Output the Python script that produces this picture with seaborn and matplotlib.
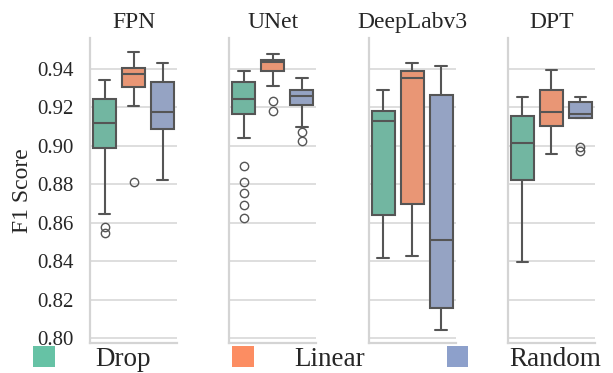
import matplotlib
matplotlib.use("Agg")
import matplotlib.pyplot as plt
from matplotlib.patches import Patch
import seaborn as sns
import pandas as pd

MODELS = ["FPN", "UNet", "DeepLabv3", "DPT"]
METHODS = ["Drop", "Linear", "Random"]

# F1 samples (quartiles, whiskers and outliers)
FPN_DROP = [0.8545, 0.8576, 0.8645, 0.899, 0.904, 0.909, 0.9117, 0.916, 0.921, 0.9242, 0.927, 0.931, 0.9343]
FPN_LINEAR = [0.8813, 0.9207, 0.925, 0.9308, 0.933, 0.935, 0.9374, 0.939, 0.940, 0.9405, 0.943, 0.946, 0.9487]
FPN_RANDOM = [0.8822, 0.895, 0.903, 0.9086, 0.912, 0.915, 0.9178, 0.922, 0.928, 0.9332, 0.936, 0.940, 0.9433]

UNET_DROP = [0.8626, 0.8691, 0.8756, 0.8810, 0.8897, 0.9039, 0.9167, 0.918, 0.920, 0.921, 0.922, 0.923,
             0.9245, 0.926, 0.928, 0.929, 0.930, 0.932, 0.9331, 0.934, 0.935, 0.936, 0.937, 0.938, 0.9388]
UNET_LINEAR = [0.9181, 0.9235, 0.9313, 0.9391, 0.941, 0.942, 0.9436, 0.944, 0.9445, 0.9449, 0.946, 0.947, 0.948]
UNET_RANDOM = [0.9025, 0.9074, 0.9098, 0.9211, 0.923, 0.924, 0.9259, 0.927, 0.928, 0.9292, 0.931, 0.933, 0.9351]

DEEPLAB_DROP = [0.8418, 0.850, 0.858, 0.8638, 0.880, 0.900, 0.9129, 0.915, 0.917, 0.9181, 0.922, 0.926, 0.9289]
DEEPLAB_LINEAR = [0.8427, 0.852, 0.862, 0.8697, 0.890, 0.920, 0.9351, 0.937, 0.938, 0.9391, 0.941, 0.942, 0.9433]
DEEPLAB_RANDOM = [0.8040, 0.808, 0.812, 0.8155, 0.825, 0.840, 0.8510, 0.880, 0.910, 0.9266, 0.932, 0.938, 0.9416]

DPT_DROP = [0.8396, 0.860, 0.875, 0.8822, 0.890, 0.896, 0.9016, 0.906, 0.911, 0.9157, 0.919, 0.922, 0.9253]
DPT_LINEAR = [0.8958, 0.902, 0.907, 0.9103, 0.913, 0.915, 0.9178, 0.922, 0.926, 0.9289, 0.932, 0.936, 0.9396]
DPT_RANDOM = [0.8975, 0.8995, 0.9143, 0.9143, 0.915, 0.916, 0.9164, 0.918, 0.920, 0.9227, 0.9235, 0.924, 0.9253]

Y_TICKS = [0.80, 0.82, 0.84, 0.86, 0.88, 0.90, 0.92, 0.94]

GROUPS = [
    [FPN_DROP, FPN_LINEAR, FPN_RANDOM],
    [UNET_DROP, UNET_LINEAR, UNET_RANDOM],
    [DEEPLAB_DROP, DEEPLAB_LINEAR, DEEPLAB_RANDOM],
    [DPT_DROP, DPT_LINEAR, DPT_RANDOM],
]

rows = []
for model, groups in zip(MODELS, GROUPS):
    for method, vals in zip(METHODS, groups):
        for v in vals:
            rows.append({"model": model, "method": method, "f1": v})
df = pd.DataFrame(rows)

sns.set_theme(style="whitegrid")
plt.rcParams["font.family"] = ["Liberation Serif", "DejaVu Serif"]

palette = sns.color_palette("Set2", 3)

fig, axes = plt.subplots(1, 4, figsize=(6.13, 3.73), dpi=100, sharey=True)
fig.subplots_adjust(left=90 / 613, right=595 / 613, top=1 - 38 / 373, bottom=1 - 343 / 373, wspace=0.6)

for i, (ax, model) in enumerate(zip(axes, MODELS)):
    sub = df[df["model"] == model]
    sns.boxplot(data=sub, y="f1", hue="method", hue_order=METHODS, palette=palette,
                width=1.0, gap=0.2, linewidth=1.5, linecolor="#555555", fliersize=6,
                legend=False, ax=ax)
    ax.set_title(model, fontsize=17, pad=7)
    ax.set_xlabel("")
    ax.set_ylabel("")
    ax.set_xlim(-0.5, 0.5)
    ax.set_xticks([])
    ax.grid(axis="x", visible=False)
    ax.grid(axis="y", color="#d4d4d4", linewidth=1.1)
    for s in ("left", "bottom"):
        ax.spines[s].set_color("#d4d4d4")
        ax.spines[s].set_linewidth(1.6)
    sns.despine(ax=ax)

axes[0].set_ylim(0.7974, 0.9561)
axes[0].set_yticks(Y_TICKS)
axes[0].set_yticklabels([f"{t:.2f}" for t in Y_TICKS])
axes[0].tick_params(axis="y", labelsize=15, pad=12, length=0)
for ax in axes[1:]:
    ax.tick_params(axis="y", labelleft=False, length=0)
axes[0].set_ylabel("F1 Score", fontsize=17, labelpad=3)

handles = [Patch(facecolor=c, edgecolor="none") for c in palette]
fig.legend(handles, METHODS, loc="center left", bbox_to_anchor=(33.3 / 613, 1 - 358.7 / 373),
           ncol=3, frameon=False, fontsize=19.5, handlelength=0.8, handleheight=0.8,
           handletextpad=1.5, columnspacing=3.0, borderpad=0, borderaxespad=0)

fig.savefig("out.png", dpi=100)
